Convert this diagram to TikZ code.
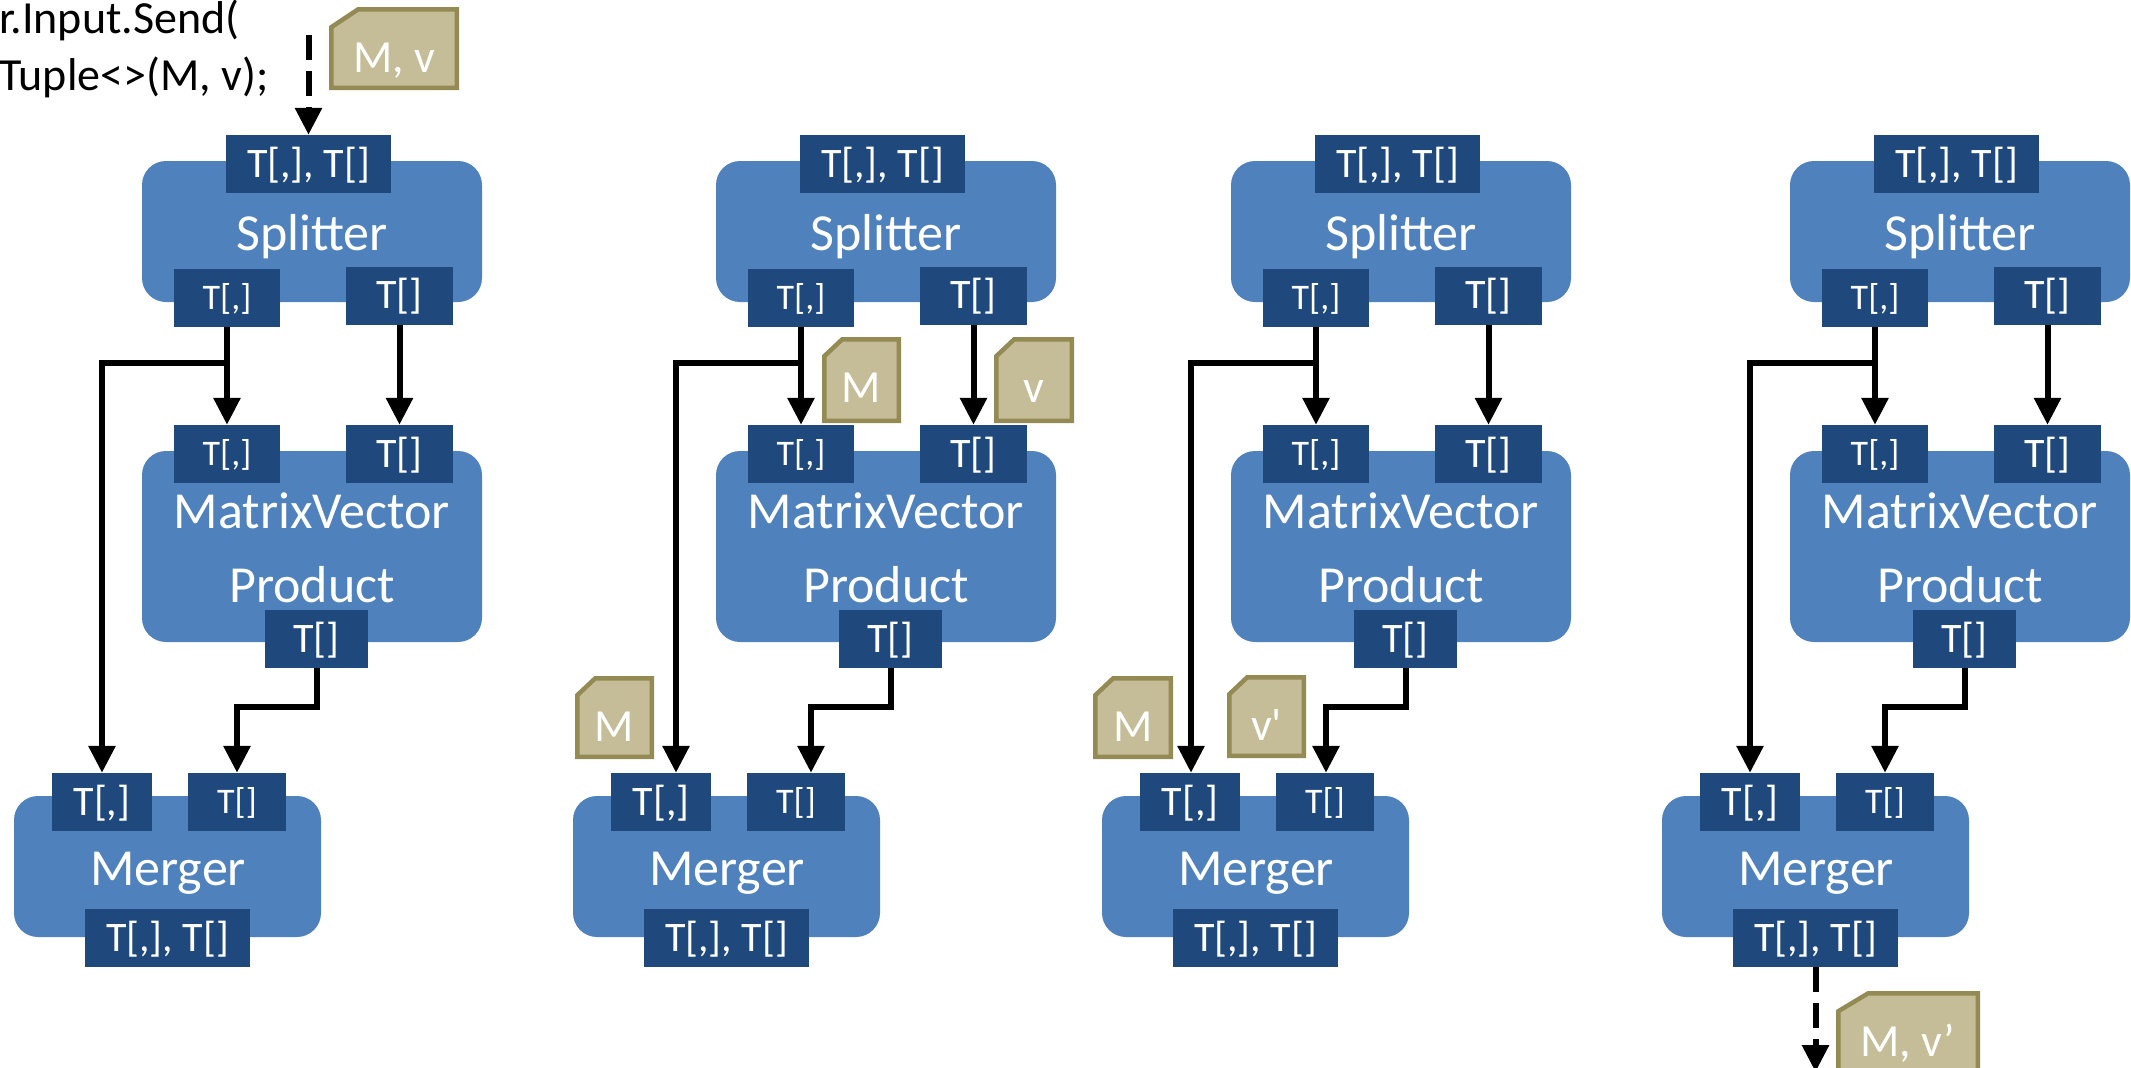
\documentclass[tikz,border=0pt]{standalone}
\usepackage{fontspec}
\setmainfont{Carlito}
\newfontfamily\straightfont{Carlito}[Ligatures=TeXOff]
\usetikzlibrary{arrows.meta}
\definecolor{blockblue}{RGB}{79,129,189}
\definecolor{portblue}{RGB}{31,73,125}
\definecolor{docfill}{RGB}{196,189,151}
\definecolor{docline}{RGB}{148,138,84}
\tikzset{
  block/.style={fill=blockblue, rounded corners=24pt, inner sep=0pt, draw=none},
  port/.style={fill=portblue, text=white, inner sep=0pt, minimum height=58pt,
    text height=26.5pt, text depth=0pt, font=\fontsize{42}{50}\selectfont},
  portsm/.style={port, text height=22.8pt, font=\fontsize{36}{43}\selectfont},
  title/.style={text=white, inner sep=0pt, anchor=base, font=\fontsize{52}{62}\selectfont},
  conn/.style={line width=6pt, -{Triangle[width=26pt,length=27pt]}},
  dconn/.style={conn, dash pattern=on 25pt off 11pt},
  docshape/.style={fill=docfill, draw=docline, line width=4.5pt, line join=miter},
  doctext/.style={text=white, inner sep=0pt, anchor=base, font=\fontsize{46}{55}\selectfont},
  code/.style={inner sep=0pt, anchor=base west, font=\fontsize{46}{55}\selectfont},
}
\newcommand\docnode[8]{%
  \filldraw[docshape] ({#2+2.25},{#3+2.25+#7}) -- ({#2+2.25+#6},{#3+2.25}) -- ({#4-2.25},{#3+2.25})
    -- ({#4-2.25},{#5-2.25}) -- ({#2+2.25},{#5-2.25}) -- cycle;
  \node[doctext] (#1) at ({(#2+#4)/2},{#3+65}) {#8};
}
\begin{document}
\begin{tikzpicture}[x=1pt,y=-1pt]
\clip (0,0) rectangle (2131,1068);
\foreach \pn/\tx/\mx in {1/0/0,2/574/559,3/1089/1088,4/1648/1648}{
  \node[block, minimum width=340pt, minimum height=141pt] (S\pn) at ({\tx+312},231.5) {};
  \node[title] (St\pn) at ({\tx+312},250) {Splitter};
  \node[port, minimum width=165pt] (SI\pn) at ({\tx+308.5},164) {T[,], T[]};
  \node[portsm, minimum width=106pt] (SA\pn) at ({\tx+227},298) {T[,]};
  \node[port, minimum width=107pt] (SB\pn) at ({\tx+399.5},295.5) {T[]};
  \node[block, minimum width=340pt, minimum height=191pt] (V\pn) at ({\tx+312},546.5) {};
  \node[title] (Vt\pn) at ({\tx+312},528) {MatrixVector};
  \node[title] (Vp\pn) at ({\tx+312},602) {Product};
  \node[portsm, minimum width=106pt] (VA\pn) at ({\tx+227},454) {T[,]};
  \node[port, minimum width=107pt] (VB\pn) at ({\tx+399.5},454) {T[]};
  \node[port, minimum width=103pt] (VO\pn) at ({\tx+316.5},639) {T[]};
  \node[block, minimum width=307pt, minimum height=141pt] (M\pn) at ({\mx+167.5},866.5) {};
  \node[title] (Mt\pn) at ({\mx+168},885) {Merger};
  \node[port, minimum width=100pt] (MA\pn) at ({\mx+102},802) {T[,]};
  \node[portsm, minimum width=98pt] (MB\pn) at ({\mx+237},802) {T[]};
  \node[port, minimum width=165pt] (MO\pn) at ({\mx+167.5},938) {T[,], T[]};
  \coordinate (L\pn) at ({\tx+102},363);
  \coordinate (R\pn) at ({\tx+237},707);
  \draw[conn] (SA\pn) -- (VA\pn);
  \draw[conn] (SB\pn) -- (VB\pn);
  \draw[conn] (SA\pn.south |- L\pn) -- (L\pn) -- (L\pn |- MA\pn.north);
  \draw[conn] (VO\pn.south) |- (R\pn) -- (R\pn |- MB\pn.north);
}
\node[code] (C1) at (-1,33) {r.Input.Send(};
\node[code] (C2) at (-1,90) {Tuple<>(M, v);};
\coordinate (IN) at (308.5,35);
\draw[dconn] (IN) -- (SI1.north);
\coordinate (OUT) at (1815.5,1072);
\draw[dconn] (MO4.south) -- (OUT);
\docnode{D1}{329}{7}{459}{90}{27}{18}{M, v}
\docnode{D2}{822}{337}{901}{423}{18}{17}{M}
\docnode{D3}{994}{337}{1074}{423}{18}{17}{v}
\docnode{D4}{575}{676}{654}{759}{18}{17}{M}
\docnode{D5}{1093}{676}{1173}{759}{18}{17}{M}
\docnode{D6}{1227}{675}{1306}{758}{18}{17}{{\straightfont v'}}
\docnode{D7}{1836}{991}{1980}{1074}{30}{18}{M, v’}
\end{tikzpicture}
\end{document}
